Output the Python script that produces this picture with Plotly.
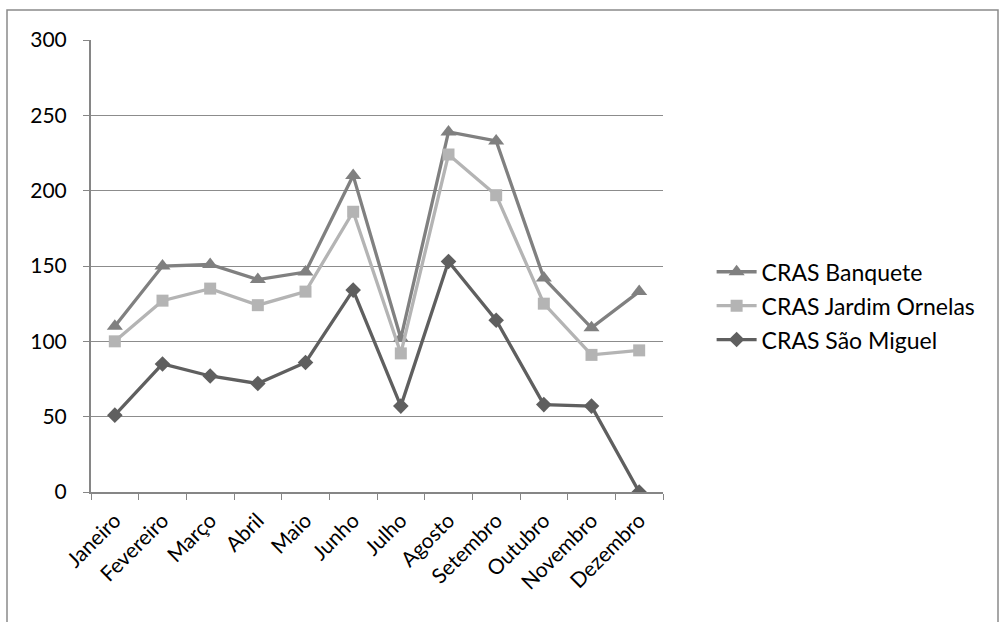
import plotly.graph_objects as go

meses = ["Janeiro", "Fevereiro", "Março", "Abril", "Maio", "Junho",
         "Julho", "Agosto", "Setembro", "Outubro", "Novembro", "Dezembro"]

banquete = [110, 150, 151, 141, 146, 210, 102, 239, 233, 142, 109, 133]
jardim_ornelas = [100, 127, 135, 124, 133, 186, 92, 224, 197, 125, 91, 94]
sao_miguel = [51, 85, 77, 72, 86, 134, 57, 153, 114, 58, 57, 0]

series = [
    ("CRAS Banquete", banquete, "#808080", "triangle-up", 14),
    ("CRAS Jardim Ornelas", jardim_ornelas, "#b4b4b4", "square", 12),
    ("CRAS São Miguel", sao_miguel, "#5f5f5f", "diamond", 12),
]

FONT = "Lato, Carlito, Calibri, sans-serif"

fig = go.Figure()
for i, (name, vals, color, symbol, size) in enumerate(series):
    fig.add_trace(go.Scatter(
        x=meses, y=vals, name=name, mode="lines+markers",
        line=dict(color=color, width=3.3),
        marker=dict(symbol=symbol, size=size, color=color),
        legendgroup=f"g{i}",
    ))

fig.update_layout(
    width=999, height=622,
    margin=dict(l=91, r=336, t=40, b=130),
    paper_bgcolor="white", plot_bgcolor="white",
    font=dict(family=FONT, size=21, color="#000000"),
    showlegend=True,
    legend=dict(
        x=1.085, y=0.412, xanchor="left", yanchor="middle",
        font=dict(family=FONT, size=23, color="#000000"),
        tracegroupgap=1, itemwidth=40,
        bgcolor="rgba(0,0,0,0)",
    ),
    xaxis=dict(
        type="category", range=[-0.5, len(meses) - 0.5],
        tickangle=-45, tickson="boundaries",
        ticks="outside", ticklen=6, tickcolor="#868686",
        showline=True, linecolor="#868686", linewidth=2,
        showgrid=False, tickfont=dict(size=21),
        ticklabelstandoff=6,
    ),
    yaxis=dict(
        range=[0, 300], dtick=50, tick0=0,
        ticks="outside", ticklen=6, tickcolor="#868686",
        showline=True, linecolor="#868686", linewidth=2,
        showgrid=True, gridcolor="#8c8c8c", gridwidth=1.3,
        zeroline=False, tickfont=dict(size=21),
        ticklabelstandoff=12,
    ),
    shapes=[dict(
        type="rect", xref="paper", yref="paper",
        x0=(7 - 91) / 572, x1=(998 - 91) / 572,
        y0=(492 - 640) / 452, y1=(492 - 10) / 452,
        line=dict(color="#8a8a8a", width=1.5), layer="below",
    )],
)

fig.write_html("out.html")
